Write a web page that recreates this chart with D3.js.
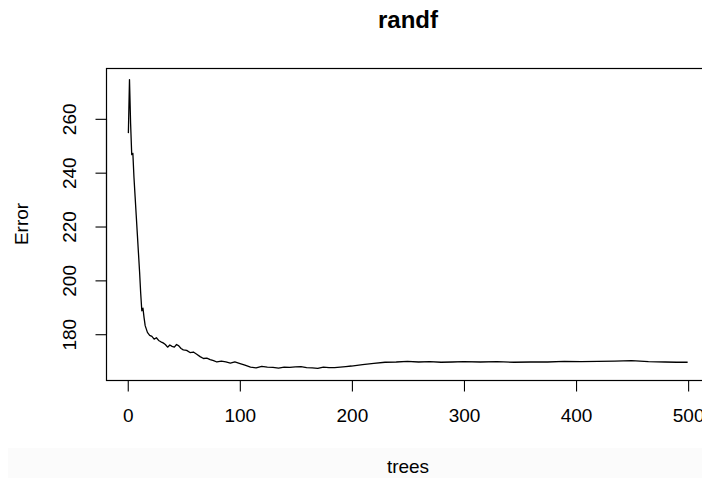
<!DOCTYPE html>
<html>
<head>
<meta charset="utf-8">
<script src="https://cdn.jsdelivr.net/npm/d3@7"></script>
<style>
  html, body { margin: 0; padding: 0; background: #ffffff; }
  svg { display: block; }
  text { font-family: "Liberation Sans", Arial, Helvetica, sans-serif; fill: #000; }
</style>
</head>
<body>
<svg id="chart" width="702" height="478"></svg>
<script>
// ---- data ----
const chartTitle = "randf";
const xLabel = "trees";
const yLabel = "Error";
const xTicks = [0, 100, 200, 300, 400, 500];
const yTicks = [180, 200, 220, 240, 260];

const trees = [1,2,3,4,5,6,7,8,9,10,11,12,13,14,15,16,18,20,22,24,26,28,30,32,34,36,38,40,42,44,46,48,50,
  53,56,59,62,65,68,71,74,77,80,84,88,92,96,100,105,110,115,120,125,130,135,140,145,150,155,160,165,170,
  175,180,185,190,195,200,210,220,230,240,250,260,270,280,290,300,315,330,345,360,375,390,405,420,435,450,
  465,480,490,500];
const errors = [254.5,274.4,258,246.5,247,238,231,224,217,210,203,195,188.5,189.5,186,183,180.5,179.4,179,178,
  178.5,177.5,177,176.6,176,175,175.8,175.3,175,176,175.5,174.5,174,
  173.8,173,173.2,172.4,171.5,170.8,170.9,170.4,170.0,169.5,169.8,169.5,169.1,169.5,169.0,168.3,167.6,167.3,
  167.9,167.6,167.5,167.2,167.6,167.5,167.7,167.8,167.4,167.3,167.1,
  167.6,167.4,167.4,167.6,167.8,168.0,168.5,169.0,169.4,169.5,169.7,169.5,169.6,169.4,169.5,169.6,169.5,
  169.6,169.4,169.5,169.5,169.7,169.6,169.7,169.8,170.0,
  169.6,169.5,169.4,169.4];

(function () {
// ---- layout ----
const svg = d3.select("#chart");
const mLeft = 106, mRight = 710, mTop = 68, mBottom = 380;

// R-style 4% range expansion
const xExt = d3.extent(trees), yExt = d3.extent(errors);
const xPad = (xExt[1] - xExt[0]) * 0.04, yPad = (yExt[1] - yExt[0]) * 0.04;
const x = d3.scaleLinear().domain([xExt[0] - xPad, xExt[1] + xPad]).range([mLeft, mRight]);
const y = d3.scaleLinear().domain([yExt[0] - yPad, yExt[1] + yPad]).range([mBottom, mTop]);

// very faint gray band at bottom (artefact in reference)
svg.append("rect").attr("x", 8).attr("y", 448).attr("width", 694).attr("height", 30).attr("fill", "#fbfbfb");

// box
svg.append("rect")
  .attr("x", mLeft + 0.5).attr("y", mTop + 0.5)
  .attr("width", mRight - mLeft).attr("height", mBottom - mTop)
  .attr("fill", "none").attr("stroke", "#000").attr("stroke-width", 1.2);

// line
const line = d3.line().x((d, i) => x(trees[i])).y(d => y(d));
svg.append("path").datum(errors)
  .attr("d", line)
  .attr("fill", "none").attr("stroke", "#000").attr("stroke-width", 1.3)
  .attr("stroke-linejoin", "round");

// axes
const xAxis = d3.axisBottom(x).tickValues(xTicks).tickSize(11).tickPadding(17).tickSizeOuter(0);
const gx = svg.append("g").attr("transform", `translate(0.5,${mBottom + 0.5})`).call(xAxis);
gx.select(".domain").attr("d", `M${x(0)},0H${x(500)}`);
gx.selectAll("text").style("font-size", "19px").attr("fill", "#000")
  .attr("font-family", "Liberation Sans, Arial, sans-serif");
gx.selectAll("line, path").attr("stroke", "#000").attr("stroke-width", 1.1);

const yAxis = d3.axisLeft(y).tickValues(yTicks).tickSize(11).tickSizeOuter(0);
const gy = svg.append("g").attr("transform", `translate(${mLeft + 0.5},0.5)`).call(yAxis);
gy.select(".domain").attr("d", `M0,${y(180)}V${y(260)}`);
gy.selectAll("line, path").attr("stroke", "#000").attr("stroke-width", 1.1);
gy.selectAll("text")
  .style("font-size", "19px").attr("fill", "#000")
  .attr("font-family", "Liberation Sans, Arial, sans-serif")
  .attr("x", null).attr("dy", null)
  .attr("text-anchor", "middle")
  .attr("transform", "translate(-31,0) rotate(-90)");

// title and axis labels
svg.append("text").attr("x", 408).attr("y", 28).attr("text-anchor", "middle")
  .style("font-size", "24px").style("font-weight", "bold").text(chartTitle);
svg.append("text").attr("x", 408).attr("y", 473).attr("text-anchor", "middle")
  .style("font-size", "19px").text(xLabel);
svg.append("text").attr("transform", "translate(28,224) rotate(-90)").attr("text-anchor", "middle")
  .style("font-size", "19px").text(yLabel);
})();
</script>
</body>
</html>
